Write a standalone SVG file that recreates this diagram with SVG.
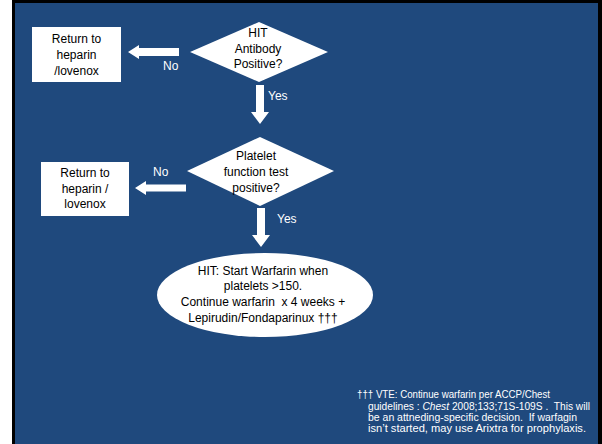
<svg xmlns="http://www.w3.org/2000/svg" width="602" height="444" viewBox="0 0 602 444">
<style>
.node{fill:#fff;stroke:none}
.t{font-family:"Liberation Sans",Arial,sans-serif;font-size:12px;fill:#000;text-anchor:middle}
.lbl{font-family:"Liberation Sans",Arial,sans-serif;font-size:12px;fill:#fff}
.arrow{fill:#fff;stroke:none}
.fn{font-family:"Liberation Sans",Arial,sans-serif;font-size:10px;fill:#fff}
</style>
<rect x="0" y="0" width="602" height="444" fill="#fff"/>
<rect x="12" y="0" width="590" height="444" fill="#000"/>
<rect x="15" y="3" width="583" height="441" fill="#1F497D"/>
<g id="box1">
<rect class="node" x="32" y="27" width="89" height="55"/>
<text class="t" x="76.5" y="43">Return to</text>
<text class="t" x="76.5" y="59">heparin</text>
<text class="t" x="76.5" y="75">/lovenox</text>
</g>
<g id="diamond1">
<polygon class="node" points="259,22 328,52 259,82 190,52"/>
<text class="t" x="258" y="37">HIT</text>
<text class="t" x="258" y="53">Antibody</text>
<text class="t" x="258" y="68">Positive?</text>
</g>
<g id="diamond2">
<polygon class="node" points="260,137 334,171 260,206 187,171"/>
<text class="t" x="256" y="160">Platelet</text>
<text class="t" x="256" y="176">function test</text>
<text class="t" x="256" y="192">positive?</text>
</g>
<g id="box2">
<rect class="node" x="41" y="162" width="88" height="54"/>
<text class="t" x="85" y="177">Return to</text>
<text class="t" x="85" y="193">heparin /</text>
<text class="t" x="85" y="208">lovenox</text>
</g>
<g id="ellipse">
<ellipse class="node" cx="265" cy="295" rx="108" ry="42"/>
<text class="t" x="263" y="275">HIT: Start Warfarin when</text>
<text class="t" x="263" y="290">platelets &gt;150.</text>
<text class="t" x="263" y="306" xml:space="preserve">Continue warfarin  x 4 weeks +</text>
<text class="t" x="263" y="322">Lepirudin/Fondaparinux †††</text>
</g>
<g id="connectors">
<polygon class="arrow" points="128,52 139,45 139,48 179,48 179,56 139,56 139,59"/>
<text class="lbl" x="163" y="70">No</text>
<polygon class="arrow" points="256,85 264,85 264,112 269,112 260,124 251,112 256,112"/>
<text class="lbl" x="268" y="100">Yes</text>
<polygon class="arrow" points="135,188 146,181 146,184.5 186,184.5 186,191.5 146,191.5 146,195"/>
<text class="lbl" x="153" y="176">No</text>
<polygon class="arrow" points="257,208 265,208 265,235 270,235 261,247 252,235 257,235"/>
<text class="lbl" x="277" y="223">Yes</text>
</g>
<g id="footnote">
<text class="fn" x="357" y="398" textLength="193" lengthAdjust="spacingAndGlyphs">††† VTE: Continue warfarin per ACCP/Chest</text>
<text class="fn" x="368" y="410" xml:space="preserve" textLength="222" lengthAdjust="spacingAndGlyphs">guidelines : <tspan font-style="italic">Chest</tspan> 2008;133;71S-109S .  This will</text>
<text class="fn" x="368" y="421" xml:space="preserve" textLength="209" lengthAdjust="spacingAndGlyphs">be an attneding-specific decision.  If warfagin</text>
<text class="fn" x="368" y="432" textLength="218" lengthAdjust="spacingAndGlyphs">isn’t started, may use Arixtra for prophylaxis.</text>
</g>
</svg>
